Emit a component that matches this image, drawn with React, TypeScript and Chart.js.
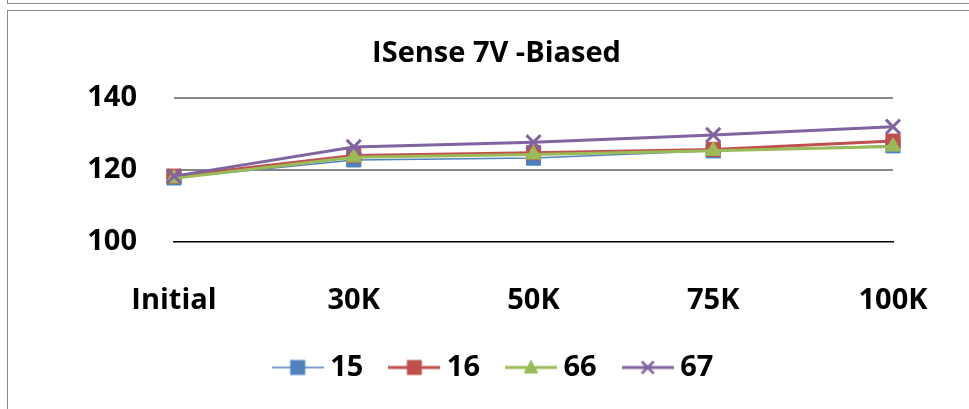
import React, { useEffect, useRef } from "react";
import { Chart, registerables } from "chart.js";

Chart.register(...registerables);

const categories = ["Initial", "30K", "50K", "75K", "100K"];
const series15 = [117.8, 122.8, 123.3, 125.3, 126.7];
const series16 = [118.3, 124.0, 124.8, 125.7, 128.0];
const series66 = [117.7, 123.5, 124.3, 125.3, 126.5];
const series67 = [118.3, 126.4, 127.7, 129.7, 132.0];
const seriesNames = ["15", "16", "66", "67"];
const yTicks = [100, 120, 140];
const titleText = "ISense 7V -Biased";

const colors = ["#4F81BD", "#C0504D", "#9BBB59", "#8064A2"];
const lineWidths = [1.5, 3, 3, 3];
const pointStyles = ["rect", "rect", "triangle", "crossRot"];
const pointRadii = [10, 10, 9, 10];

const FONT = "'Open Sans', 'DejaVu Sans', sans-serif";
const PAD_LEFT = 24;

function legendImage(i: number): HTMLCanvasElement {
  const c = document.createElement("canvas");
  c.width = 52;
  c.height = 22;
  const ctx = c.getContext("2d")!;
  const cy = 11;
  ctx.strokeStyle = colors[i];
  ctx.lineWidth = lineWidths[i];
  ctx.beginPath();
  ctx.moveTo(0, cy);
  ctx.lineTo(52, cy);
  ctx.stroke();
  ctx.fillStyle = colors[i];
  const cx = 26;
  if (pointStyles[i] === "rect") {
    ctx.fillRect(cx - 7.5, cy - 7.5, 15, 15);
  } else if (pointStyles[i] === "triangle") {
    ctx.beginPath();
    ctx.moveTo(cx, cy - 8);
    ctx.lineTo(cx + 7.5, cy + 6);
    ctx.lineTo(cx - 7.5, cy + 6);
    ctx.closePath();
    ctx.fill();
  } else {
    ctx.lineWidth = 2.5;
    ctx.beginPath();
    ctx.moveTo(cx - 6, cy - 6);
    ctx.lineTo(cx + 6, cy + 6);
    ctx.moveTo(cx + 6, cy - 6);
    ctx.lineTo(cx - 6, cy + 6);
    ctx.stroke();
  }
  return c;
}

export default function App() {
  const ref = useRef<HTMLCanvasElement | null>(null);

  useEffect(() => {
    if (!ref.current) return;
    const data = [series15, series16, series66, series67];
    const chart = new Chart(ref.current, {
      type: "line",
      data: {
        labels: categories,
        datasets: data.map((d, i) => ({
          label: seriesNames[i],
          data: d,
          borderColor: colors[i],
          backgroundColor: colors[i],
          borderWidth: lineWidths[i],
          pointStyle: pointStyles[i] as any,
          pointRadius: pointRadii[i],
          pointBorderWidth: pointStyles[i] === "crossRot" ? 3 : 1,
          pointBorderColor: colors[i],
          pointBackgroundColor: colors[i],
          tension: 0,
          order: 4 - i,
          yAxisID: "y",
        })),
      },
      options: {
        responsive: false,
        animation: false,
        devicePixelRatio: 1,
        layout: { padding: { left: PAD_LEFT, right: 0, top: 0, bottom: 17 } },
        plugins: {
          tooltip: { enabled: false },
          title: {
            display: true,
            text: titleText,
            color: "#000",
            font: { family: FONT, size: 29, weight: "bold" },
            padding: { top: 36, bottom: 27 },
          },
          legend: {
            position: "bottom",
            labels: {
              color: "#000",
              font: { family: FONT, size: 29, weight: "bold" },
              usePointStyle: true,
              pointStyleWidth: 36,
              padding: 33,
              generateLabels: (ch: any) =>
                ch.data.datasets.map((ds: any, i: number) => ({
                  text: ds.label,
                  datasetIndex: i,
                  hidden: false,
                  pointStyle: legendImage(i),
                  fillStyle: colors[i],
                  strokeStyle: colors[i],
                  lineWidth: 0,
                  fontColor: "#000",
                })),
            },
          },
        },
        scales: {
          x: {
            type: "category",
            offset: false,
            grid: { display: false, drawTicks: false },
            border: { display: true, color: "#000", width: 1.5 },
            afterFit: (s: any) => {
              s.height -= 39;
            },
            ticks: {
              color: "#000",
              font: { family: FONT, size: 29, weight: "bold" },
              padding: 41,
              maxRotation: 0,
              autoSkip: false,
            },
          },
          y: {
            min: 100,
            max: 140,
            afterFit: (s: any) => {
              s.width = 174 - PAD_LEFT;
            },
            afterBuildTicks: (s: any) => {
              s.ticks = yTicks.map((v) => ({ value: v }));
            },
            grid: {
              drawTicks: false,
              color: (c: any) => (c.tick && c.tick.value === 100 ? "rgba(0,0,0,0)" : "#868686"),
              lineWidth: 2,
            },
            border: { display: false },
            ticks: {
              color: "#000",
              font: { family: FONT, size: 29, weight: "bold" },
              padding: 37,
            },
          },
          yRight: {
            position: "right",
            min: 100,
            max: 140,
            afterFit: (s: any) => {
              s.width = 76;
            },
            grid: { display: false, drawTicks: false },
            border: { display: false },
            ticks: { display: false },
          },
        },
      },
    });
    return () => chart.destroy();
  }, []);

  return (
    <div style={{ position: "fixed", left: 0, top: 0, width: 969, height: 409, background: "#fff", overflow: "hidden" }}>
      <div
        style={{
          position: "absolute",
          left: 7,
          top: -2,
          width: 980,
          height: 5,
          borderLeft: "1.5px solid #8a8a8a",
          borderBottom: "1.5px solid #8a8a8a",
        }}
      />
      <div
        style={{
          position: "absolute",
          left: 7,
          top: 10,
          width: 980,
          height: 420,
          borderLeft: "1.5px solid #8a8a8a",
          borderTop: "1.5px solid #8a8a8a",
        }}
      />
      <canvas ref={ref} width={969} height={409} style={{ position: "absolute", left: 0, top: 0, width: 969, height: 409 }} />
    </div>
  );
}
